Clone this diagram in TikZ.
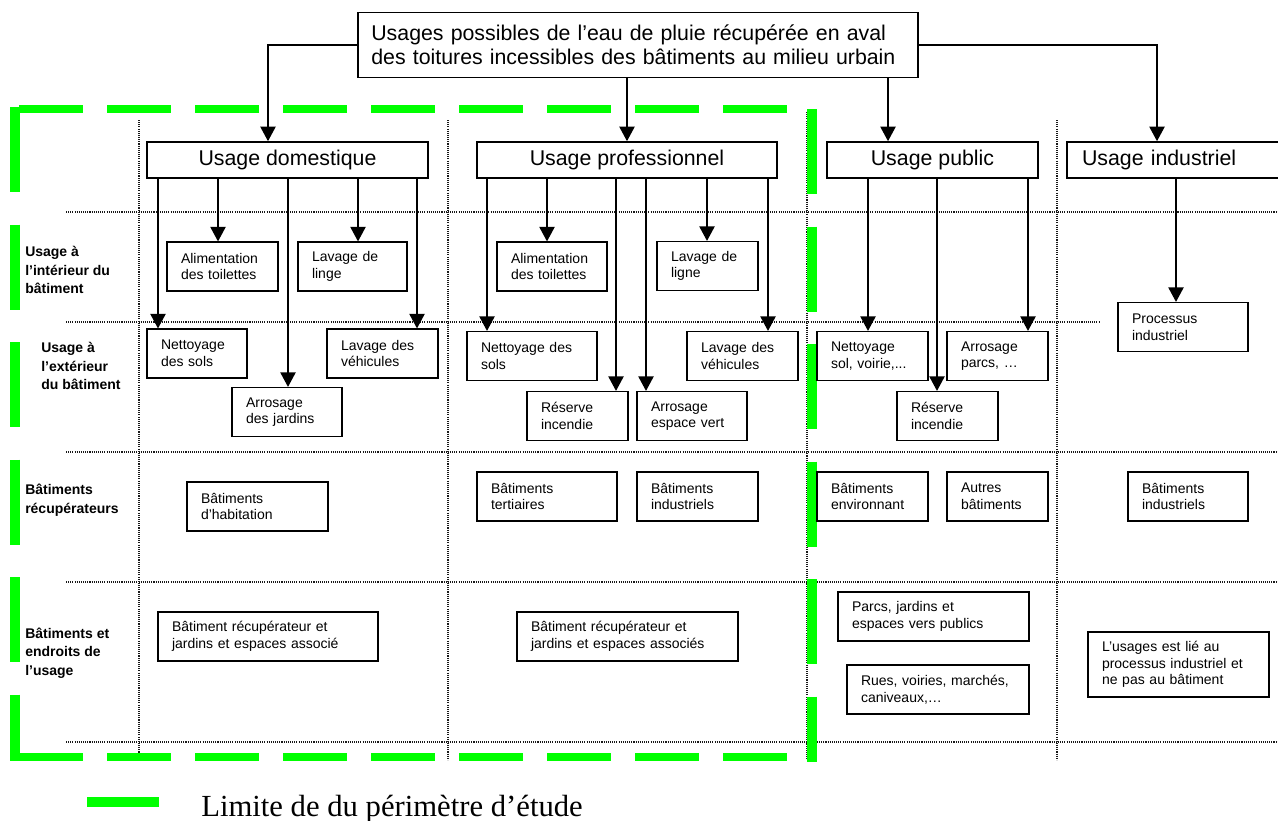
\documentclass[tikz,border=0pt]{standalone}
\usepackage{fontspec}
\setmainfont{Liberation Sans}
\newfontfamily\legendefont{Liberation Serif}
\usetikzlibrary{arrows.meta}
\definecolor{vertlimite}{RGB}{0,255,0}

\begin{document}
\begin{tikzpicture}[x=0.75pt, y=-0.75pt,
  every node/.style={font=\fontsize{10.5}{12.5}\selectfont},
  titre/.style={draw, line width=1.2pt, fill=white, align=left, text width=400pt,
                inner xsep=10pt, minimum height=48.75pt, font=\fontsize{16}{18}\selectfont},
  usage/.style={draw, line width=1.2pt, fill=white, minimum width=#1,
                minimum height=27pt, inner sep=0pt, font=\fontsize{16}{18}\selectfont},
  boite/.style={draw, line width=1.1pt, fill=white, align=left, inner xsep=10.5pt,
                minimum height=36.5pt, text width=#1},
  ligne/.style={align=left, anchor=west, inner sep=0pt,
                font=\fontsize{10.5}{14}\selectfont\bfseries},
  fleche/.style={-{Triangle[length=11pt, width=11.5pt]}, line width=1.2pt},
  grille/.style={line width=0.8pt, black!90, dash pattern=on 0.8pt off 0.8pt},
  limite/.style={draw=vertlimite, line width=7.5pt, dash pattern=on 63.75pt off 24.4pt},
  limiteh/.style={draw=vertlimite, line width=6pt, dash pattern=on 48pt off 18pt}
]
\useasboundingbox (0,0) rectangle (1278,821);

% Grille pointillee
\foreach \y in {212,452,582,742}
  \draw[grille] (66,\y) -- (1278,\y);
\draw[grille] (66,322) -- (1099,322);
\foreach \x in {139,448,1057}
  \draw[grille] (\x,120) -- (\x,760);
\draw[grille] (807,112) -- (807,760);

% Limite du perimetre d'etude
\draw[limite] (14.5,107) -- (14.5,761);
\draw[limite] (811.5,109) -- (811.5,762);
\draw[limiteh] (19,109) -- (788,109);
\draw[limiteh] (19,757) -- (788,757);

% Legende
\fill[vertlimite] (87,797) rectangle (159,807);
\node[anchor=base west, inner sep=0pt, font=\legendefont\fontsize{23}{27}\selectfont]
  (legende) at (201,816) {Limite de du périmètre d’étude};

% Titre et usages
\node[titre] (titre) at (638,45)
  {Usages possibles de l’eau de pluie récupérée en aval\\des toitures incessibles des bâtiments au milieu urbain};
\node[usage=210.75pt] (dom) at (287.5,160) {Usage domestique};
\node[usage=225pt] (pro) at (627,160) {Usage professionnel};
\node[usage=158.25pt] (pub) at (932.5,160) {Usage public};
\node[usage=150pt, text width=150pt, align=left, inner xsep=11.25pt] (ind) at (1182,160) {Usage industriel};

% Libelles des lignes
\node[ligne] (lint) at (25,270) {Usage à\\l’intérieur du\\bâtiment};
\node[ligne] (lext) at (41,366) {Usage à\\l’extérieur\\du bâtiment};
\node[ligne] (lrec) at (25,500) {Bâtiments\\récupérateurs};
\node[ligne] (lend) at (25,653) {Bâtiments et\\endroits de\\l’usage};

% Usage domestique
\node[boite=62.25pt] (alid) at (222.5,266.5) {Alimentation\\des toilettes};
\node[boite=60.75pt] (lingd) at (352.5,266.5) {Lavage de\\linge};
\node[boite=54pt] (netd) at (197,353.5) {Nettoyage\\des sols};
\node[boite=62.25pt] (vehd) at (382.5,353.5) {Lavage des\\véhicules};
\node[boite=61.5pt] (arrd) at (287,412) {Arrosage\\des jardins};
\node[boite=84.75pt] (habd) at (257.5,506.5) {Bâtiments\\d’habitation};
\node[boite=144pt] (recd) at (268,636.5) {Bâtiment récupérateur et\\jardins et espaces associé};

% Usage professionnel
\node[boite=61.5pt] (alip) at (552,266.5) {Alimentation\\des toilettes};
\node[boite=54.75pt] (lingp) at (707.5,266) {Lavage de\\ligne};
\node[boite=76.5pt] (netp) at (532,356) {Nettoyage des\\sols};
\node[boite=62.25pt] (vehp) at (742.5,356) {Lavage des\\véhicules};
\node[boite=54.75pt] (resp) at (577.5,416) {Réserve\\incendie};
\node[boite=61.5pt] (arrp) at (692,416) {Arrosage\\espace vert};
\node[boite=84pt] (tertp) at (547,496.5) {Bâtiments\\tertiaires};
\node[boite=69.75pt] (indp) at (697.5,496.5) {Bâtiments\\industriels};
\node[boite=144.75pt] (recp) at (627.5,636.5) {Bâtiment récupérateur et\\jardins et espaces associés};

% Usage public
\node[boite=62.25pt] (netpub) at (872.5,356) {Nettoyage\\sol, voirie,...};
\node[boite=54.75pt] (arrpub) at (997.5,356) {Arrosage\\parcs, …};
\node[boite=54.75pt] (respub) at (947.5,416) {Réserve\\incendie};
\node[boite=62.25pt] (envpub) at (872.5,496.5) {Bâtiments\\environnant};
\node[boite=54.75pt] (autpub) at (997.5,496.5) {Autres\\bâtiments};
\node[boite=122.25pt] (parcpub) at (933.5,616.5) {Parcs, jardins et\\espaces vers publics};
\node[boite=115.5pt] (ruepub) at (938,689.5) {Rues, voiries, marchés,\\caniveaux,…};

% Usage industriel
\node[boite=76.5pt] (proc) at (1183,327) {Processus\\industriel};
\node[boite=69pt] (indi) at (1188,496.5) {Bâtiments\\industriels};
\node[boite=114.75pt, minimum height=48.75pt] (usagei) at (1178.5,664.5)
  {L’usages est lié au\\processus industriel et\\ne pas au bâtiment};

% Fleches
\draw[fleche] (titre.west) -| (dom.north -| 268,0);
\draw[fleche] (titre.south -| pro.north) -- (pro.north);
\draw[fleche] (titre.south -| 888,0) -- (pub.north -| 888,0);
\draw[fleche] (titre.east) -| (ind.north -| 1157,0);
\foreach \x/\de/\vers in {158/dom/netd, 218/dom/alid, 288/dom/arrd, 358/dom/lingd,
    417/dom/vehd, 487/pro/netp, 547/pro/alip, 616/pro/resp, 646/pro/arrp,
    707/pro/lingp, 768/pro/vehp, 868/pub/netpub, 937/pub/respub,
    1028/pub/arrpub, 1176/ind/proc}
  \draw[fleche] (\de.south -| \x,0) -- (\vers.north -| \x,0);

\end{tikzpicture}
\end{document}
